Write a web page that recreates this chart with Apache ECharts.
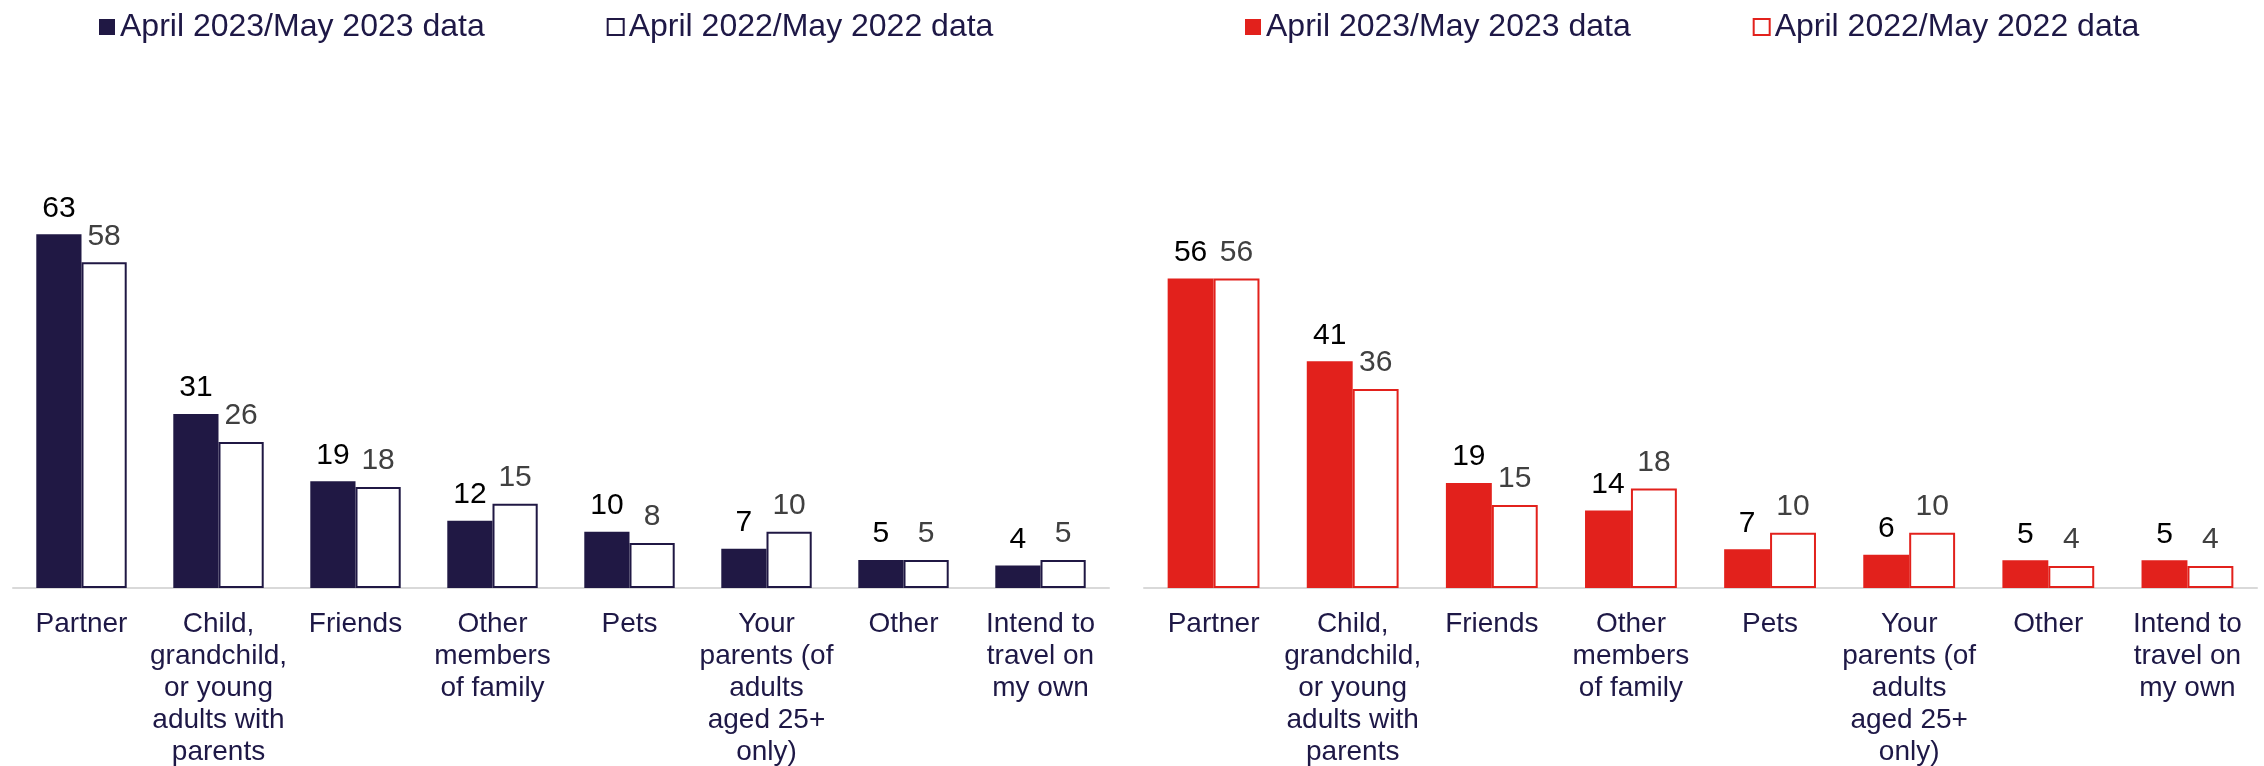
<!DOCTYPE html>
<html>
<head>
<meta charset="utf-8">
<script src="https://cdn.jsdelivr.net/npm/echarts@6/dist/echarts.min.js"></script>
<style>
html,body{margin:0;padding:0;background:#fff;}
#chart{width:2264px;height:766px;}
</style>
</head>
<body>
<div id="chart"></div>
<script>
const categories = [
  "Partner",
  "Child,\ngrandchild,\nor young\nadults with\nparents",
  "Friends",
  "Other\nmembers\nof family",
  "Pets",
  "Your\nparents (of\nadults\naged 25+\nonly)",
  "Other",
  "Intend to\ntravel on\nmy own"
];
const seriesNames = ["April 2023/May 2023 data", "April 2022/May 2022 data"];
const leftValues2023 = [63, 31, 19, 12, 10, 7, 5, 4];
const leftValues2022 = [58, 26, 18, 15, 8, 10, 5, 5];
const rightValues2023 = [56, 41, 19, 14, 7, 6, 5, 5];
const rightValues2022 = [56, 36, 15, 18, 10, 10, 4, 4];

const NAVY = "#201844";
const RED = "#e2211c";
const TEXT = "#1e1846";
const FONT = "'Liberation Sans', Arial, sans-serif";

const chart = echarts.init(document.getElementById('chart'));

function xAxis(gridIndex) {
  return {
    type: 'category', gridIndex: gridIndex, data: categories,
    axisLine: {show: true, lineStyle: {color: '#d9d9d9', width: 2}},
    axisTick: {show: false},
    axisLabel: {interval: 0, fontFamily: FONT, fontSize: 28, lineHeight: 32, color: TEXT, margin: 20, verticalAlign: 'top'}
  };
}
function yAxis(gridIndex) {
  return {type: 'value', gridIndex: gridIndex, min: 0, max: 70, show: false, splitLine: {show: false}};
}
function bars(name, data, idx, fill, border, labelColor) {
  return {
    type: 'bar', name: name, data: data, xAxisIndex: idx, yAxisIndex: idx,
    barGap: '0%', barCategoryGap: '34%',
    itemStyle: {color: fill, borderColor: border, borderWidth: fill === '#ffffff' ? 2 : 0},
    label: {show: true, position: 'top', distance: 11, fontFamily: FONT, fontSize: 30, color: labelColor},
    emphasis: {disabled: true}
  };
}

const option = {
  animation: false,
  backgroundColor: '#ffffff',
  legend: [
    {
      left: 94, top: 6, itemWidth: 16, itemHeight: 16, itemGap: 122,
      textStyle: {fontFamily: FONT, fontSize: 32, color: TEXT},
      data: [
        {name: 'L1', icon: 'rect'},
        {name: 'L2', icon: 'rect'}
      ],
      formatter: function (n) { return n === 'L1' ? seriesNames[0] : seriesNames[1]; }
    },
    {
      left: 1240, top: 6, itemWidth: 16, itemHeight: 16, itemGap: 122,
      textStyle: {fontFamily: FONT, fontSize: 32, color: TEXT},
      data: [
        {name: 'R1', icon: 'rect'},
        {name: 'R2', icon: 'rect'}
      ],
      formatter: function (n) { return n === 'R1' ? seriesNames[0] : seriesNames[1]; }
    }
  ],
  grid: [
    {left: 13, width: 1096, top: 195, bottom: 178, containLabel: false, outerBoundsMode: 'none'},
    {left: 1144, width: 1113, top: 201, bottom: 178, containLabel: false, outerBoundsMode: 'none'}
  ],
  xAxis: [xAxis(0), xAxis(1)],
  yAxis: [yAxis(0), yAxis(1)],
  series: [
    bars('L1', leftValues2023, 0, NAVY, NAVY, '#000000'),
    bars('L2', leftValues2022, 0, '#ffffff', NAVY, '#404040'),
    bars('R1', rightValues2023, 1, RED, RED, '#000000'),
    bars('R2', rightValues2022, 1, '#ffffff', RED, '#404040')
  ]
};
chart.setOption(option);
</script>
</body>
</html>
